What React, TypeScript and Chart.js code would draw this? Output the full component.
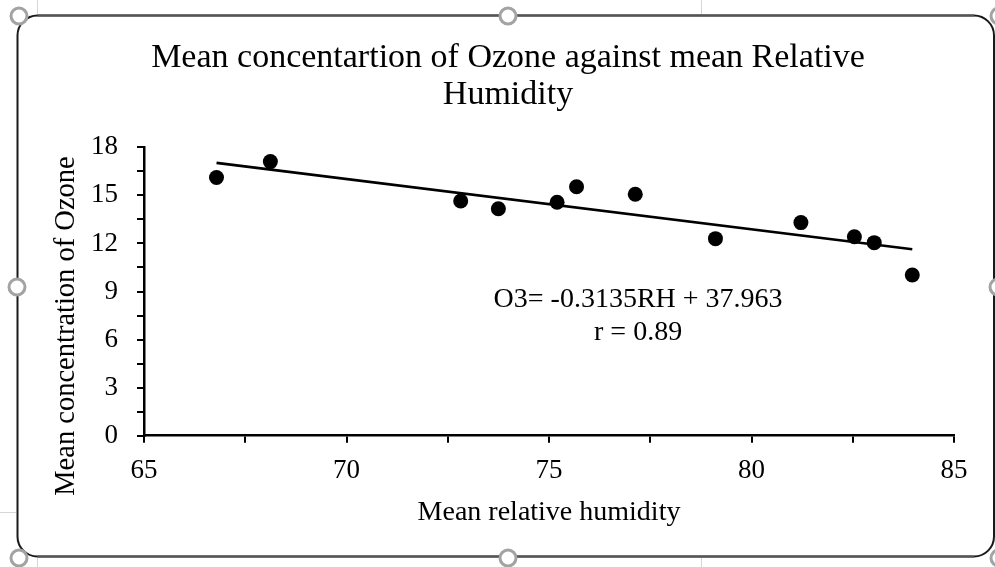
import React, { useEffect, useRef } from 'react';
import { Chart, registerables } from 'chart.js';

Chart.register(...registerables);

// ---- data ----
const humidity = [66.79, 68.12, 72.82, 73.75, 75.2, 75.68, 77.13, 79.11, 81.22, 82.54, 83.03, 83.97];
const ozone = [16.12, 17.11, 14.65, 14.17, 14.57, 15.54, 15.07, 12.3, 13.3, 12.42, 12.05, 10.03];
const trendSlope = -0.3135;
const trendIntercept = 37.963;

const xTickLabels = [65, 70, 75, 80, 85];
const yTickLabels = [0, 3, 6, 9, 12, 15, 18];

const titleLines = ['Mean concentartion of Ozone against mean Relative', 'Humidity'];
const xTitle = 'Mean relative humidity';
const yTitle = 'Mean concentration of Ozone';
const equationLines = ['O3= -0.3135RH + 37.963', 'r = 0.89'];
// anchor of the equation text, in data units [humidity, ozone] per line
const equationAnchorX = 77.2;
const equationAnchorY = [8.5, 6.45];

const FAMILY = "'Liberation Serif', 'Times New Roman', serif";

const framePlugin = {
  id: 'frame',
  beforeDraw(chart: any) {
    const ctx = chart.ctx;
    const W = chart.width;
    const H = chart.height;
    ctx.save();
    ctx.fillStyle = '#ffffff';
    ctx.fillRect(0, 0, W, H);
    // faint spreadsheet gridlines outside frame
    ctx.strokeStyle = '#d6d6d6';
    ctx.lineWidth = 1;
    ctx.beginPath();
    ctx.moveTo(37.5, 0); ctx.lineTo(37.5, 14);
    ctx.moveTo(37.5, 558); ctx.lineTo(37.5, H);
    ctx.moveTo(701.5, 0); ctx.lineTo(701.5, 14);
    ctx.moveTo(701.5, 558); ctx.lineTo(701.5, H);
    ctx.moveTo(0, 512.5); ctx.lineTo(16, 512.5);
    ctx.stroke();

    // rounded frame
    const l = 17.5, t = 15.5, r = 994, b = 556.5, rad = 20;
    ctx.strokeStyle = '#1a1a1a';
    ctx.lineWidth = 2;
    ctx.beginPath();
    ctx.moveTo(l + rad, t);
    ctx.lineTo(r - rad, t);
    ctx.arcTo(r, t, r, t + rad, rad);
    ctx.lineTo(r, b - rad);
    ctx.arcTo(r, b, r - rad, b, rad);
    ctx.lineTo(l + rad, b);
    ctx.arcTo(l, b, l, b - rad, rad);
    ctx.lineTo(l, t + rad);
    ctx.arcTo(l, t, l + rad, t, rad);
    ctx.closePath();
    ctx.stroke();
    ctx.strokeStyle = '#555555';
    ctx.beginPath();
    ctx.moveTo(l + rad, t); ctx.lineTo(r - rad, t);
    ctx.moveTo(l + rad, b); ctx.lineTo(r - rad, b);
    ctx.stroke();
    ctx.restore();
  },
  afterDraw(chart: any) {
    const ctx = chart.ctx;
    const handles = [
      [19, 16], [508, 16], [999, 16],
      [17, 287], [998, 287],
      [19, 558], [508, 558], [999, 558],
    ];
    ctx.save();
    ctx.fillStyle = '#ffffff';
    ctx.strokeStyle = '#a3a3a3';
    ctx.lineWidth = 3;
    for (const [hx, hy] of handles) {
      ctx.beginPath();
      ctx.arc(hx, hy, 8, 0, Math.PI * 2);
      ctx.fill();
      ctx.stroke();
    }
    ctx.restore();
  },
};

const textPlugin = {
  id: 'texts',
  afterDatasetsDraw(chart: any) {
    const ctx = chart.ctx;
    const xs = chart.scales.x;
    const ys = chart.scales.y;
    ctx.save();
    ctx.fillStyle = '#000';
    ctx.font = `28px ${FAMILY}`;
    ctx.textAlign = 'center';
    ctx.textBaseline = 'middle';
    equationLines.forEach((line, i) => {
      ctx.fillText(line, xs.getPixelForValue(equationAnchorX), ys.getPixelForValue(equationAnchorY[i]));
    });
    // y-axis title (placed like the original, lower than the plot centre)
    ctx.translate(66.5, 326);
    ctx.rotate(-Math.PI / 2);
    ctx.font = `28.5px ${FAMILY}`;
    ctx.fillText(yTitle, 0, 0);
    ctx.restore();
  },
};

export default function App() {
  const canvasRef = useRef<HTMLCanvasElement | null>(null);

  useEffect(() => {
    document.body.style.margin = '0';
    const canvas = canvasRef.current;
    if (!canvas) return;

    const points = humidity.map((h, i) => ({ x: h, y: ozone[i] }));
    const xMin = Math.min(...humidity);
    const xMax = Math.max(...humidity);
    const trend = [
      { x: xMin, y: trendIntercept + trendSlope * xMin },
      { x: xMax, y: trendIntercept + trendSlope * xMax },
    ];

    const chart = new Chart(canvas, {
      type: 'scatter',
      data: {
        datasets: [
          {
            label: 'Trend',
            data: trend,
            showLine: true,
            borderColor: '#000',
            borderWidth: 2.75,
            pointRadius: 0,
            fill: false,
          },
          {
            label: 'Ozone',
            data: points,
            backgroundColor: '#000',
            borderColor: '#000',
            borderWidth: 0,
            pointRadius: 7.5,
          },
        ],
      },
      options: {
        responsive: false,
        animation: false,
        layout: { padding: { left: 62, right: 41, top: 39.3, bottom: 26.3 } },
        plugins: {
          legend: { display: false },
          tooltip: { enabled: false },
          title: {
            display: true,
            text: titleLines,
            color: '#000',
            font: { family: FAMILY, size: 34, weight: 'normal', lineHeight: 1.09 },
            padding: { top: 0, bottom: 33.9 },
          },
        },
        scales: {
          x: {
            type: 'linear',
            min: 65,
            max: 85,
            ticks: {
              stepSize: 2.5,
              autoSkip: false,
              maxRotation: 0,
              color: '#000',
              padding: 12,
              font: { family: FAMILY, size: 27 },
              callback: (v: any) => (xTickLabels.includes(Number(v)) ? String(v) : ''),
            },
            grid: { display: true, drawOnChartArea: false, drawTicks: true, tickLength: 7, color: '#000', lineWidth: 2 },
            border: { display: true, color: '#000', width: 2.5 },
            title: {
              display: true,
              text: xTitle,
              color: '#000',
              font: { family: FAMILY, size: 28 },
              padding: { top: 0, bottom: 11.5 },
            },
            afterFit: (s: any) => { s.height = 105; },
          },
          y: {
            type: 'linear',
            min: 0,
            max: 18,
            ticks: {
              stepSize: 1.5,
              autoSkip: false,
              color: '#000',
              padding: 19,
              font: { family: FAMILY, size: 27 },
              callback: (v: any) => (yTickLabels.includes(Number(v)) ? String(v) : ''),
            },
            grid: { display: true, drawOnChartArea: false, drawTicks: true, tickLength: 7, color: '#000', lineWidth: 2 },
            border: { display: true, color: '#000', width: 2.5 },
            title: { display: false, text: yTitle },
            afterFit: (s: any) => { s.width = 82; },
          },
        },
      },
      plugins: [framePlugin, textPlugin],
    });

    return () => chart.destroy();
  }, []);

  return (
    <div style={{ position: 'absolute', left: 0, top: 0, width: 995, height: 567 }}>
      <canvas ref={canvasRef} width={995} height={567} style={{ display: 'block' }} />
    </div>
  );
}
